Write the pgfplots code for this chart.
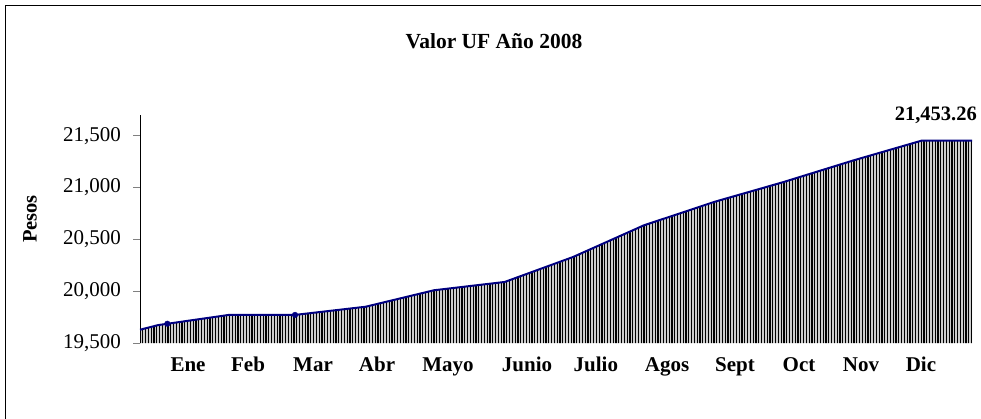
\documentclass[border=0pt]{standalone}
\usepackage{fontspec}
\setmainfont{Liberation Serif}
\usepackage{pgfplots}
\pgfplotsset{compat=1.18}
\usetikzlibrary{patterns.meta}
\definecolor{uflinea}{RGB}{0,0,128}
\begin{document}
\fontsize{20.5bp}{24bp}\selectfont
\begin{tikzpicture}
\useasboundingbox (0,0) rectangle (981bp,419bp);
\draw[line width=1bp] (5bp,0) -- (5bp,413bp) -- (981bp,413bp);
\node[font=\bfseries\fontsize{21.5bp}{25bp}\selectfont] at (494bp,378bp) {Valor UF Año 2008};
\node[font=\bfseries, rotate=90] at (30bp,200bp) {Pesos};
\begin{axis}[
  at={(140bp,76bp)}, anchor=south west,
  scale only axis, width=832bp, height=228bp,
  xmin=0, xmax=365, ymin=19500, ymax=21700,
  axis y line*=left, axis x line*=bottom,
  x axis line style={draw=none},
  major x tick style={draw=none},
  ytick={19500,20000,20500,21000,21500},
  scaled y ticks=false,
  yticklabel={\pgfmathprintnumber[fixed,precision=0,1000 sep={,},assume math mode=true]{\tick}},
  tick align=outside, major tick length=7bp,
  y axis line style={line width=0.8bp, -},
  ytick style={line width=0.8bp},
  yticklabel style={anchor=east, inner sep=0pt, xshift=-12bp, font=\fontsize{21bp}{24bp}\selectfont},
  xtick={21.06,47.4,75.9,104.0,135.1,169.8,200.0,231.2,261.0,289.1,316.3,342.6},
  xticklabels={Ene,Feb,Mar,Abr,Mayo,Junio,Julio,Agos,Sept,Oct,Nov,Dic},
  xticklabel style={anchor=base, inner sep=0pt, yshift=-21bp, font=\bfseries\fontsize{21bp}{24bp}\selectfont},
  clip=false,
]
\addplot[draw=none, fill=gray!40,
  postaction={pattern={Lines[angle=90,distance=2.8bp,line width=1.1bp]}, pattern color=black}]
  coordinates {
  (0,19628) (8,19673) (39,19771) (68,19771) (99,19850) (129,20009)
  (160,20089) (190,20330) (221,20635) (252,20862) (282,21051)
  (313,21262) (343,21453.26) (365,21452.57)
  } \closedcycle;
\addplot[uflinea, line width=2bp, mark=none]
  coordinates {
  (0,19628) (8,19673) (39,19771) (68,19771) (99,19850) (129,20009)
  (160,20089) (190,20330) (221,20635) (252,20862) (282,21051)
  (313,21262) (343,21453.26) (365,21452.57)
  };
\addplot[only marks, mark=*, mark size=2.8bp, color=uflinea]
  coordinates {(12,19686) (68,19771)};
\node[font=\bfseries, anchor=base] at (axis cs:343,21453.26) [xshift=14bp, yshift=20bp] {21,453.26};
\end{axis}
\end{tikzpicture}
\end{document}
